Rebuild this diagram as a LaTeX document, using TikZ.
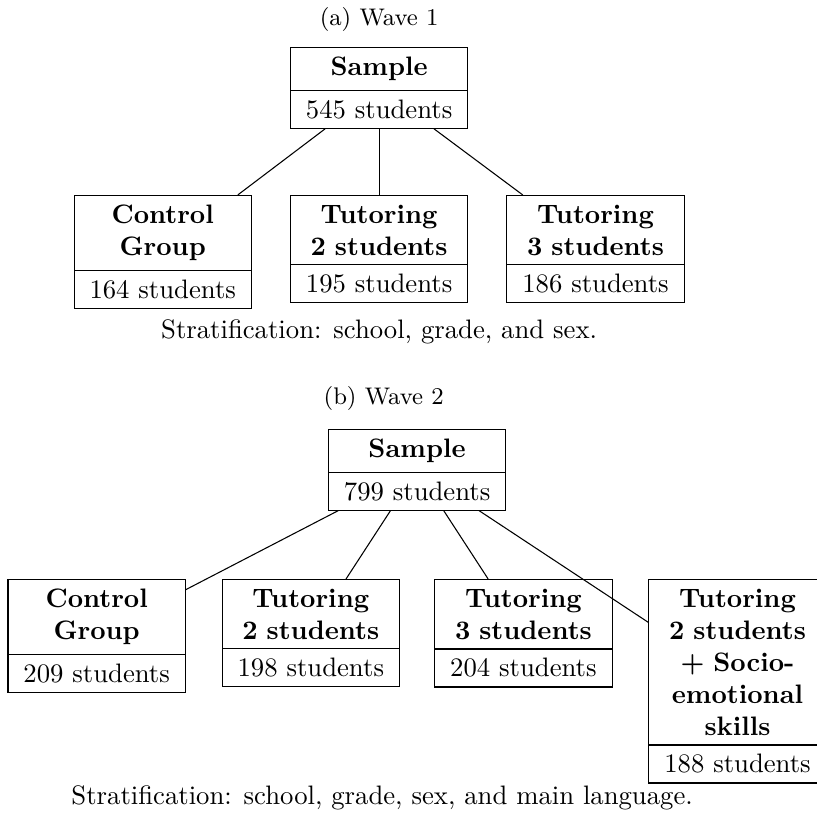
\documentclass[tikz,border=0pt]{standalone}
\usetikzlibrary{positioning,shapes.multipart}

\begin{document}
\begin{tikzpicture}[
  group/.style={draw, rectangle split, rectangle split parts=2, text width=2.1cm, align=center},
  caption/.style={anchor=base, font=\small},
  note/.style={anchor=base}
]
  % Fix the page size
  \useasboundingbox (0,0) rectangle (10.75,-10.78);

  % (a) Wave 1
  \node[caption] (titlea) at (4.99,-0.33) {(a) Wave 1};
  \node[group, anchor=north] (samplea) at (4.99,-0.62) {\textbf{Sample} \nodepart{two} 545 students};
  \node[group, below=0.87cm of samplea] (twoa) {{\bfseries Tutoring\\2 students} \nodepart{two} 195 students};
  \node[group, left=0.5cm of twoa.north west, anchor=north east] (controla) {{\bfseries Control\\Group} \nodepart{two} 164 students};
  \node[group, right=0.5cm of twoa.north east, anchor=north west] (threea) {{\bfseries Tutoring\\3 students} \nodepart{two} 186 students};
  \foreach \arm in {controla, twoa, threea} {
    \draw (samplea) -- (\arm);
  }
  \node[note] (notea) at (4.99,-4.45) {Stratification: school, grade, and sex.};

  % (b) Wave 2
  \node[caption] (titleb) at (5.05,-5.33) {(b) Wave 2};
  \node[group, anchor=north] (sampleb) at (5.49,-5.645) {\textbf{Sample} \nodepart{two} 799 students};
  \node[group, below left=0.9cm and 0.225cm of sampleb.south] (twob) {{\bfseries Tutoring\\2 students} \nodepart{two} 198 students};
  \node[group, below right=0.9cm and 0.225cm of sampleb.south] (threeb) {{\bfseries Tutoring\\3 students} \nodepart{two} 204 students};
  \node[group, left=0.47cm of twob.north west, anchor=north east] (controlb) {{\bfseries Control\\Group} \nodepart{two} 209 students};
  \node[group, right=0.47cm of threeb.north east, anchor=north west] (socialb) {{\bfseries Tutoring\\2 students\\+ Socio-\\emotional\\skills} \nodepart{two} 188 students};
  \foreach \arm in {controlb, twob, threeb, socialb} {
    \draw (sampleb) -- (\arm);
  }
  \node[note] (noteb) at (5.03,-10.59) {Stratification: school, grade, sex, and main language.};
\end{tikzpicture}
\end{document}
